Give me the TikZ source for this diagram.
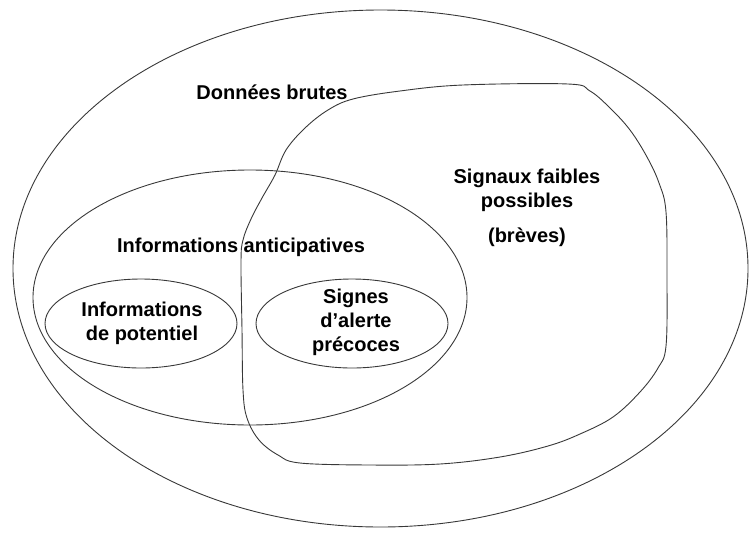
\documentclass[tikz,border=0pt]{standalone}
\usepackage{fontspec}
\setmainfont{Liberation Sans}
\begin{document}
\begin{tikzpicture}[x=1pt,y=-1pt,
  outline/.style={draw=black!78, line width=0.9pt},
  lbl/.style={font=\bfseries\fontsize{20}{24}\selectfont, inner sep=0pt, anchor=base, text=black}]
\useasboundingbox (0,0) rectangle (751,533);
% outer ellipse: Données brutes
\draw[outline] (380.5,268.5) ellipse [x radius=367.5, y radius=258.5];
% middle ellipse: Informations anticipatives
\draw[outline] (250,297.5) ellipse [x radius=217, y radius=127.5];
% small ellipses
\draw[outline] (141,323.5) ellipse [x radius=96, y radius=44.5];
\draw[outline] (352,323.5) ellipse [x radius=96, y radius=44.5];
% freeform: signaux faibles possibles
\draw[outline] plot[smooth cycle, tension=0.6] coordinates {
  (353,99) (400,91) (463,85) (568,84) (590,91) (610,108) (630,130) (647,157)
  (659,183) (666,212) (667,280) (666,346) (658,368) (640,392) (613,417)
  (580,434) (548,446) (500,457) (440,464) (370,465) (300,463) (278,455)
  (259,440) (247,418) (243,390) (242,330) (241,262) (243,240) (251,219) (262,198)
  (275,175) (286,150) (305,128) (328,110)};
% labels
\node[lbl] (db) at (272,99) {Données brutes};
\node[lbl] (ia) at (241,252) {Informations anticipatives};
\node[lbl] (ip1) at (142,316) {Informations};
\node[lbl] (ip2) at (142,340) {de potentiel};
\node[lbl] (sa1) at (356,303) {Signes};
\node[lbl] (sa2) at (356,327) {d’alerte};
\node[lbl] (sa3) at (356,351) {précoces};
\node[lbl] (sf1) at (527,183) {Signaux faibles};
\node[lbl] (sf2) at (527,207) {possibles};
\node[lbl] (sf3) at (527,242) {(brèves)};
\end{tikzpicture}
\end{document}
